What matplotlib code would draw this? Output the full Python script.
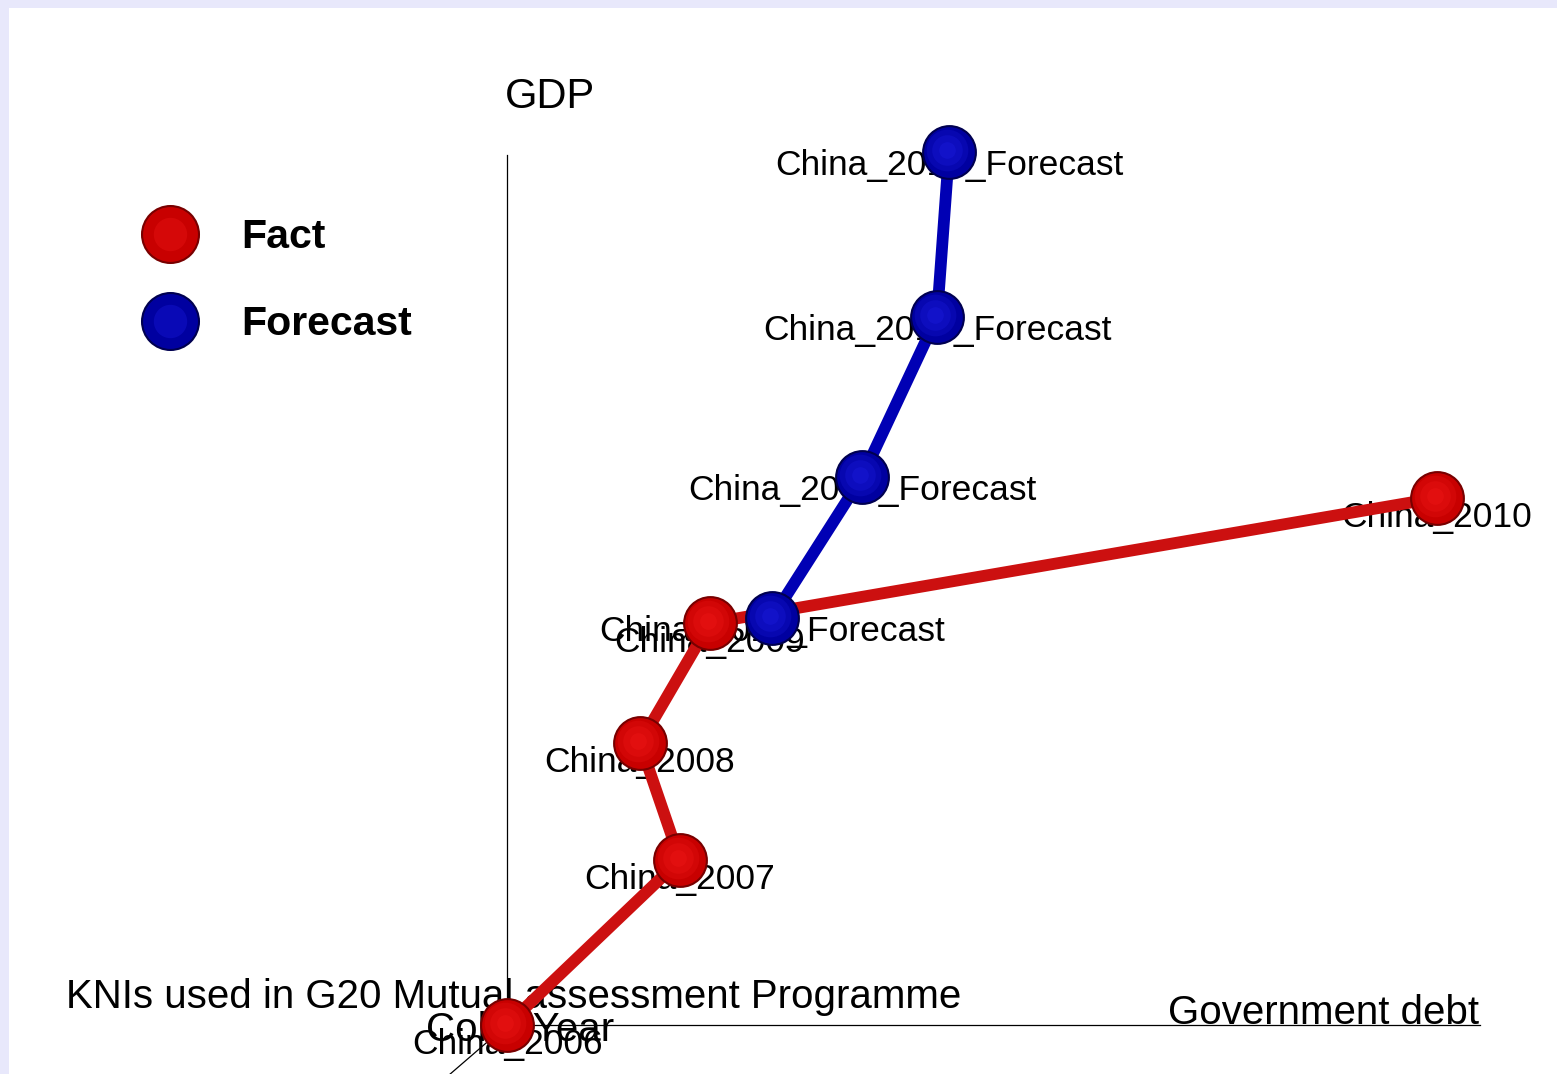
import matplotlib
matplotlib.use("Agg")
import matplotlib.pyplot as plt
from matplotlib.lines import Line2D
from matplotlib.patches import Rectangle
from matplotlib.transforms import offset_copy
from matplotlib.legend_handler import HandlerTuple

plt.rcParams['font.family'] = ['Liberation Sans', 'DejaVu Sans']

# values (x = government debt, y = GDP, arbitrary units)
fact_labels = ['China_2006', 'China_2007', 'China_2008', 'China_2009', 'China_2010']
fact_debt = [0.0, 17.3, 13.3, 20.3, 93.0]
fact_gdp = [0.0, 16.5, 28.2, 40.2, 52.7]

forecast_labels = ['China_2011_Forecast', 'China_2012_Forecast',
                   'China_2013_Forecast', 'China_2014_Forecast']
forecast_debt = [26.5, 35.5, 43.0, 44.2]
forecast_gdp = [40.7, 54.8, 70.8, 87.3]

# axis extents
gdp_axis_top = 87.0
debt_axis_end = 97.3
year_axis_end = (-8.0, -6.9)

fig = plt.figure(figsize=(15.57, 10.74), dpi=100, facecolor='#E8E8FB')
fig.patches.append(Rectangle((9 / 1557, 0), 1, 1 - 8 / 1074, transform=fig.transFigure,
                             facecolor='white', edgecolor='none', zorder=-1))
ax = fig.add_axes([0, 0, 1, 1])
ax.set_xlim(-50.7, 105.0)
ax.set_ylim(-4.9, 102.5)
ax.axis('off')

# the three axes of the 3d view
ax.plot([0, 0], [0, gdp_axis_top], color='black', lw=0.9, zorder=1)
ax.plot([0, debt_axis_end], [0, 0], color='black', lw=0.9, zorder=1)
ax.plot([0, year_axis_end[0]], [0, year_axis_end[1]], color='black', lw=0.9, zorder=1)

ax.text(-0.2, 92.8, 'GDP', fontsize=30, ha='left', va='center', zorder=3)
ax.text(81.6, 1.2, 'Government debt', fontsize=29, ha='center', va='center', zorder=3)
ax.text(1.3, -0.5, 'Color Year', fontsize=29, ha='center', va='center', zorder=3)
ax.text(-44.1, 2.8, 'KNIs used in G20 Mutual assessment Programme', fontsize=29,
        ha='left', va='center', zorder=3)


def draw_series(x, y, labels, body, edge, shine, line_color, label_dy):
    ax.plot(x, y, color=line_color, lw=8.5, solid_capstyle='round', zorder=4)
    ax.plot(x, y, 'o', ls='', ms=38, mfc=body, mec=edge, mew=1.5, zorder=5)
    hl = offset_copy(ax.transData, fig=fig, x=-1.5, y=1.5, units='points')
    for ms, a in [(30, 0.25), (22, 0.3), (12, 0.35)]:
        ax.plot(x, y, 'o', ls='', ms=ms, mfc=shine, mec='none', alpha=a,
                transform=hl, zorder=6)
    for lab, xi, yi in zip(labels, x, y):
        ax.annotate(lab, (xi, yi), xytext=(0, label_dy), textcoords='offset points',
                    ha='center', va='center', fontsize=25.5, zorder=3)


draw_series(fact_debt, fact_gdp, fact_labels, '#C80000', '#780000', '#F01818', '#CC1010', -14)
draw_series(forecast_debt, forecast_gdp, forecast_labels, '#0000A0', '#000050', '#1C1CE0', '#0000B4', -10)

fact_h = (Line2D([], [], marker='o', ls='', ms=41, mfc='#C80000', mec='#780000', mew=1.5),
          Line2D([], [], marker='o', ls='', ms=24, mfc='#F01818', mec='none', alpha=0.35))
fc_h = (Line2D([], [], marker='o', ls='', ms=41, mfc='#0000A0', mec='#000050', mew=1.5),
        Line2D([], [], marker='o', ls='', ms=24, mfc='#1C1CE0', mec='none', alpha=0.35))
leg = ax.legend([fact_h, fc_h], ['Fact', 'Forecast'],
                handler_map={tuple: HandlerTuple(ndivide=1)},
                loc='upper left', bbox_to_anchor=(129 / 1557, 1 - 218 / 1074),
                bbox_transform=fig.transFigure, frameon=False, borderpad=0,
                borderaxespad=0, labelspacing=1.2, handletextpad=0.75,
                prop={'size': 29.5, 'weight': 'bold'})
leg.set_zorder(8)

fig.savefig('out.png', dpi=100, facecolor=fig.get_facecolor())
